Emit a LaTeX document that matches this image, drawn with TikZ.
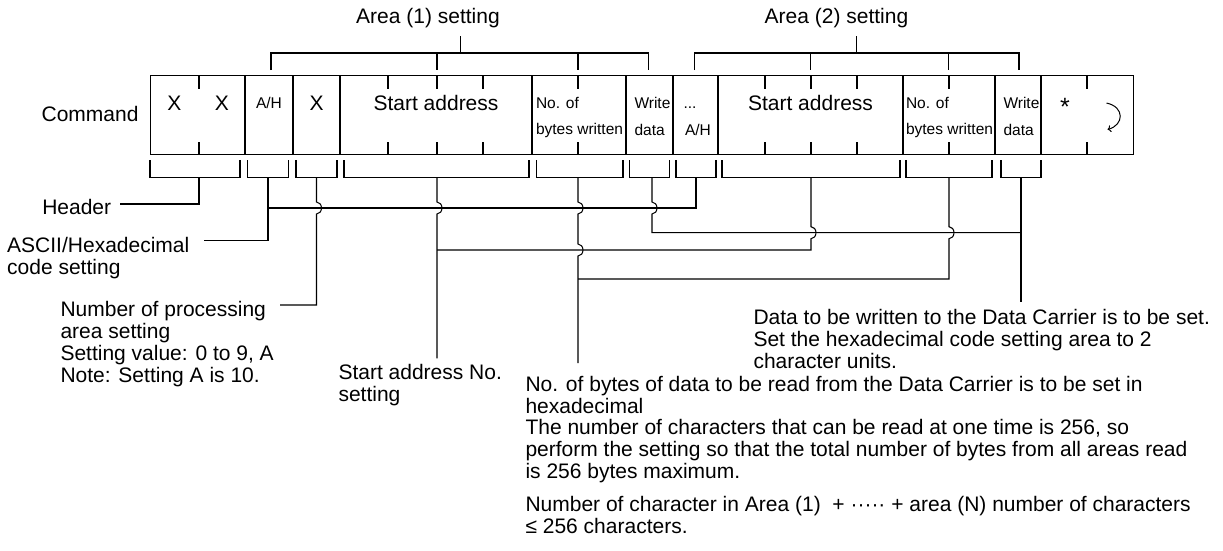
\documentclass[tikz,border=0pt]{standalone}
\usepackage{fontspec}
\setmainfont{Liberation Sans}
\usetikzlibrary{calc,arrows.meta}
\newcommand{\hopat}[2]{-- ($(#1 |- #2)+(0,-6)$) arc[start angle=90,end angle=-90,x radius=5pt,y radius=6pt]}
\begin{document}
\begin{tikzpicture}[x=1pt,y=-1pt,line width=1.05pt,
  big/.style={inner sep=0pt,font=\fontsize{21}{22}\selectfont},
  small/.style={inner sep=0pt,font=\fontsize{15.5}{17}\selectfont},
  lbl/.style={inner sep=0pt,font=\fontsize{21}{22}\selectfont,align=left}]
\useasboundingbox (0,0) rectangle (1223,550);
% main command frame
\node[draw,line width=1.2pt,anchor=north west,inner sep=0pt,minimum width=983pt,minimum height=79pt] (frame) at (150,75) {};
\foreach \x in {245,293,340,532,626,673,718,903,995,1041} \draw (\x,75) -- (\x,154);
\foreach \x in {199,388,437,483,578,765,811,857,949,1087} {\draw (\x,75) -- (\x,89); \draw (\x,142) -- (\x,154);}
\node[big,anchor=east] (cmd) at (139,114) {Command};
\node[big] (x1) at (174.5,103) {X};
\node[big] (x2) at (222,103) {X};
\node[small] (ah1) at (269,103) {A/H};
\node[big] (x3) at (316.5,103) {X};
\node[big] (sa1) at (436,103) {Start address};
\node[small,anchor=west] (nb1a) at (535.5,103) {No. of};
\node[small,anchor=west] (nb1b) at (535.5,130) {bytes written};
\node[small,anchor=west] (wd1a) at (634,103) {Write};
\node[small,anchor=west] (wd1b) at (634,130) {data};
\node[small,anchor=base west] (dots) at (683,108.5) {...};
\node[small] (ah2) at (698,130) {A/H};
\node[big] (sa2) at (810.5,103) {Start address};
\node[small,anchor=west] (nb2a) at (905.5,103) {No. of};
\node[small,anchor=west] (nb2b) at (905.5,130) {bytes written};
\node[small,anchor=west] (wd2a) at (1003,103) {Write};
\node[small,anchor=west] (wd2b) at (1003,130) {data};
\node[inner sep=0pt,font=\fontsize{25}{25}\selectfont] (star) at (1065,106.5) {*};
\coordinate (crA) at (1106.5,103);
\coordinate (crB) at (1107.5,129.5);
\draw[line width=1pt,-{To[length=3.5pt,width=7pt]}] (crA) .. controls (1125,107) and (1124,125) .. (crB);
% top brackets
\node[big] (area1) at (428,18) {Area (1) setting};
\node[big] (area2) at (836.5,18) {Area (2) setting};
\coordinate (t1s) at (460.4,53);
\coordinate (t2s) at (856.8,53);
\draw (271,70) -- (271,53) -- (648.6,53) -- (648.6,70);
\draw (437,53) -- (437,70);
\draw (578,53) -- (578,70);
\draw (t1s) -- (460.4,36);
\draw (694.6,70) -- (694.6,53) -- (1019,53) -- (1019,70);
\draw (810.8,53) -- (810.8,70);
\draw (948.9,53) -- (948.9,70);
\draw (t2s) -- (856.8,36);
% bottom brackets
\foreach \l/\r in {150/240,247.5/288.5,296/337,344/529,536.5/623,629.5/669.5,676/716,722/900,906/992,1001/1041}
  \draw (\l,160) -- (\l,177.5) -- (\r,177.5) -- (\r,160);
\coordinate (bHdr) at (199,177.5);
\coordinate (bAH1) at (268,177.5);
\coordinate (bX) at (316.5,177.5);
\coordinate (bSA1) at (437,177.5);
\coordinate (bNB1) at (578,177.5);
\coordinate (bWD1) at (652,177.5);
\coordinate (bAH2) at (696,177.5);
\coordinate (bSA2) at (811,177.5);
\coordinate (bNB2) at (949,177.5);
\coordinate (bWD2) at (1021,177.5);
\coordinate (jAH) at (268,208);
\coordinate (jWD) at (652,232.7);
\coordinate (jSA) at (811,250);
\coordinate (jNB) at (949,279);
% labels
\node[lbl,anchor=east] (hdr) at (111.7,206.7) {Header};
\node[lbl,anchor=north west] (ascii) at (6.7,236.5) {ASCII/Hexadecimal\\code setting};
\node[lbl,anchor=north west] (num) at (60,300.8) {Number of processing\\area setting\\Setting value: 0 to 9, A\\Note: Setting A is 10.};
\node[lbl,anchor=north west] (sano) at (338,364.2) {Start address No.\\setting};
\node[lbl,anchor=north west] (dat) at (753,309.2) {Data to be written to the Data Carrier is to be set.\\Set the hexadecimal code setting area to 2\\character units.};
\node[lbl,anchor=north west,font=\fontsize{21}{21.75}\selectfont] (nob) at (525,375.5) {No. of bytes of data to be read from the Data Carrier is to be set in\\hexadecimal\\The number of characters that can be read at one time is 256, so\\perform the setting so that the total number of bytes from all areas read\\is 256 bytes maximum.};
\node[lbl,anchor=north west] (sum) at (525,495.5) {Number of character in Area (1)\ \ + \textperiodcentered\textperiodcentered\textperiodcentered\textperiodcentered\textperiodcentered{} + area (N) number of characters\\≤ 256 characters.};
\coordinate (eHdr) at (120,204);
\coordinate (eAscii) at (204,240.5);
\coordinate (eNum) at (280,305);
\coordinate (eSA1) at (437,358.3);
\coordinate (eNB1) at (578,363);
\coordinate (eWD2) at (1021,301.7);
% connectors
\draw (bHdr) |- (eHdr);
\draw (bAH1) |- (eAscii);
\draw (jAH) -| (bAH2);
\draw (bX) \hopat{bX}{jAH} |- (eNum);
\draw (bSA1) \hopat{bSA1}{jAH} -- (eSA1);
\draw (bNB1) \hopat{bNB1}{jAH} \hopat{bNB1}{jSA} -- (eNB1);
\draw (bWD1) \hopat{bWD1}{jAH} -- (jWD) -- (bWD2 |- jWD);
\draw (bWD2) -- (eWD2);
\draw (bSA2) \hopat{bSA2}{jWD} -- (jSA) -- (bSA1 |- jSA);
\draw (bNB2) \hopat{bNB2}{jWD} -- (jNB) -- (bNB1 |- jNB);
\end{tikzpicture}
\end{document}
